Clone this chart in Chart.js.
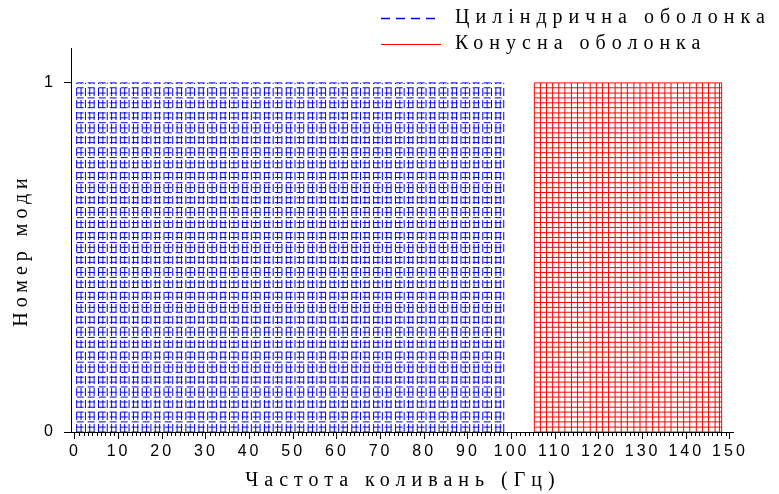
<!DOCTYPE html>
<html>
<head>
<meta charset="utf-8">
<script src="https://cdn.jsdelivr.net/npm/chart.js@4.4.0/dist/chart.umd.min.js"></script>
<style>
  body { margin: 0; background: #fff; }
</style>
</head>
<body>
<canvas id="graphCanvas" width="779" height="494"></canvas>
<script>
// Частоти мод, Гц
const freqCyl = [0.4, 1.4, 2.4, 3.4, 4.4, 5.4, 6.4, 7.4, 8.4, 9.4,
  10.4, 11.4, 12.4, 13.4, 14.4, 15.4, 16.4, 17.4, 18.4, 19.4,
  20.4, 21.4, 22.4, 23.4, 24.4, 25.4, 26.4, 27.4, 28.4, 29.4,
  30.4, 31.4, 32.4, 33.4, 34.4, 35.4, 36.4, 37.4, 38.4, 39.4,
  40.4, 41.4, 42.4, 43.4, 44.4, 45.4, 46.4, 47.4, 48.4, 49.4,
  50.4, 51.4, 52.4, 53.4, 54.4, 55.4, 56.4, 57.4, 58.4, 59.4,
  60.4, 61.4, 62.4, 63.4, 64.4, 65.4, 66.4, 67.4, 68.4, 69.4,
  70.4, 71.4, 72.4, 73.4, 74.4, 75.4, 76.4, 77.4, 78.4, 79.4,
  80.4, 81.4, 82.4, 83.4, 84.4, 85.4, 86.4, 87.4, 88.4, 89.4,
  90.4, 91.4, 92.4, 93.4, 94.4, 95.4, 96.4, 97.4, 98.2];
const freqCone = [105.2, 106.6, 108.0, 109.4, 110.8, 112.2, 113.7, 115.1, 116.5, 118.0,
  119.4, 120.8, 122.2, 123.7, 125.1, 126.5, 128.0, 129.4, 130.8, 132.3,
  133.7, 135.1, 136.5, 138.0, 139.4, 140.8, 142.3, 143.7, 145.1, 146.6, 147.6, 148.1];
// Рівні (номер моди, нормований)
const modeLevels = [0, 0.014, 0.029, 0.043, 0.057, 0.071, 0.086, 0.1, 0.114, 0.129,
  0.143, 0.157, 0.171, 0.186, 0.2, 0.214, 0.229, 0.243, 0.257, 0.271,
  0.286, 0.3, 0.314, 0.329, 0.343, 0.357, 0.371, 0.386, 0.4, 0.414,
  0.429, 0.443, 0.457, 0.471, 0.486, 0.5, 0.514, 0.529, 0.543, 0.557,
  0.571, 0.586, 0.6, 0.614, 0.629, 0.643, 0.657, 0.671, 0.686, 0.7,
  0.714, 0.729, 0.743, 0.757, 0.771, 0.786, 0.8, 0.814, 0.829, 0.843,
  0.857, 0.871, 0.886, 0.9, 0.914, 0.929, 0.943, 0.957, 0.971, 0.986, 1];
const xTickValues = [0, 10, 20, 30, 40, 50, 60, 70, 80, 90, 100, 110, 120, 130, 140, 150];
const yTickValues = [0, 1];
const seriesNames = ['Циліндрична оболонка', 'Конусна оболонка'];
const xTitle = 'Частота коливань (Гц)';
const yTitle = 'Номер моди';

// вертикальні лінії (f,0)-(f,1), розриви через null
function verticalLines(freqs) {
  const pts = [];
  freqs.forEach(f => {
    pts.push({ x: f, y: 0 }, { x: f, y: 1 }, { x: f, y: null });
  });
  return pts;
}
function horizontalLines(levels, x0, x1) {
  const pts = [];
  levels.forEach(l => {
    pts.push({ x: x0, y: l }, { x: x1, y: l }, { x: x1, y: null });
  });
  return pts;
}

const BLUE = '#0000ee';
const RED = '#ff0000';
const serif = '"Liberation Serif", "DejaVu Serif", serif';
const sans = '"Liberation Sans", Arial, sans-serif';

const lineBase = { pointRadius: 0, borderWidth: 1, fill: false, tension: 0, spanGaps: false };

// підписи, мінорні тики, легенда
const decor = {
  id: 'decor',
  beforeDraw(chart) {
    chart.ctx.letterSpacing = '3px';
  },
  afterDraw(chart) {
    const ctx = chart.ctx;
    const xs = chart.scales.x;
    const area = chart.chartArea;
    ctx.save();
    ctx.letterSpacing = '0px';
    ctx.strokeStyle = '#000';
    ctx.lineWidth = 1;
    ctx.beginPath();
    for (let v = 1; v < 150; v++) {
      if (v % 10 === 0) continue;
      const px = Math.round(xs.getPixelForValue(v)) + 0.5;
      ctx.moveTo(px, area.bottom);
      ctx.lineTo(px, area.bottom + 4);
    }
    ctx.stroke();

    ctx.fillStyle = '#000';
    ctx.font = '20px ' + serif;
    ctx.textAlign = 'center';
    ctx.textBaseline = 'middle';
    ctx.letterSpacing = '6px';
    ctx.fillText(xTitle, 403, 481);
    ctx.letterSpacing = '5px';
    ctx.save();
    ctx.translate(22, 250);
    ctx.rotate(-Math.PI / 2);
    ctx.fillText(yTitle, 0, 0);
    ctx.restore();

    // легенда
    ctx.letterSpacing = '6px';
    ctx.textAlign = 'left';
    ctx.fillText(seriesNames[0], 455, 18);
    ctx.fillText(seriesNames[1], 455, 44);
    ctx.letterSpacing = '0px';
    ctx.lineWidth = 1.5;
    ctx.strokeStyle = BLUE;
    ctx.setLineDash([9, 6]);
    ctx.beginPath();
    ctx.moveTo(381, 18.5);
    ctx.lineTo(441, 18.5);
    ctx.stroke();
    ctx.setLineDash([]);
    ctx.strokeStyle = RED;
    ctx.lineWidth = 1;
    ctx.beginPath();
    ctx.moveTo(381, 44.5);
    ctx.lineTo(441, 44.5);
    ctx.stroke();
    ctx.restore();
  }
};

const ctx = document.getElementById('graphCanvas');

new Chart(ctx, {
  type: 'line',
  data: {
    datasets: [
      { ...lineBase, label: seriesNames[0], data: verticalLines(freqCyl), borderColor: BLUE, borderDash: [8, 4] },
      { ...lineBase, label: seriesNames[0] + ' h', data: horizontalLines(modeLevels, freqCyl[0], freqCyl[freqCyl.length - 1]), borderColor: BLUE, borderDash: [7, 4] },
      { ...lineBase, label: seriesNames[1], data: verticalLines(freqCone), borderColor: RED },
      { ...lineBase, label: seriesNames[1] + ' h', data: horizontalLines(modeLevels, freqCone[0], freqCone[freqCone.length - 1]), borderColor: RED }
    ]
  },
  options: {
    responsive: false,
    animation: false,
    layout: { padding: { top: 48, right: 46, left: 0, bottom: 0 } },
    plugins: { legend: { display: false }, tooltip: { enabled: false } },
    scales: {
      x: {
        type: 'linear',
        min: -0.9,
        max: 150.7,
        afterBuildTicks: s => { s.ticks = xTickValues.map(v => ({ value: v })); },
        afterFit: s => { s.height = 62; },
        grid: { drawOnChartArea: false, drawTicks: true, tickLength: 7, color: '#000' },
        border: { display: true, color: '#000', width: 1 },
        ticks: { color: '#000', font: { family: sans, size: 16 }, padding: 3, maxRotation: 0, autoSkip: false }
      },
      y: {
        min: 0,
        max: 1.1,
        afterBuildTicks: s => { s.ticks = yTickValues.map(v => ({ value: v })); },
        afterFit: s => { s.width = 71; },
        grid: { drawOnChartArea: false, drawTicks: true, tickLength: 7, color: '#000' },
        border: { display: true, color: '#000', width: 1 },
        ticks: { color: '#000', font: { family: sans, size: 16 }, padding: 8 }
      }
    }
  },
  plugins: [decor]
});
</script>
</body>
</html>
